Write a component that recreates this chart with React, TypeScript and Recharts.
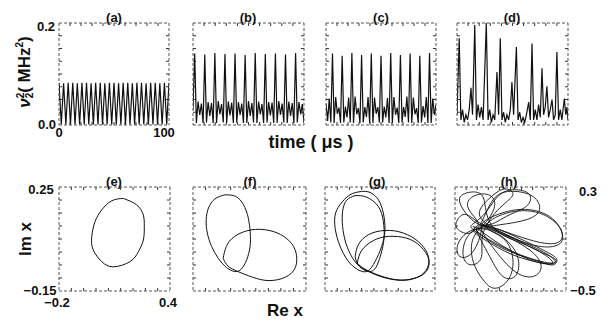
import React from "react";
import { LineChart, Line, XAxis, YAxis, ReferenceLine } from "recharts";

// ν2² (MHz²) samples, evenly spaced over 0–100 µs
const seriesA = [
  0.083, 0.001, 0.082, 0.001, 0.083, 0.001, 0.083, 0.001, 0.082, 0.001,
  0.083, 0.001, 0.083, 0.001, 0.082, 0.001, 0.083, 0.001, 0.083, 0.001,
  0.082, 0.001, 0.083, 0.001, 0.083, 0.001, 0.082, 0.001, 0.083, 0.001,
  0.083, 0.001, 0.082, 0.001, 0.083, 0.001, 0.083, 0.001, 0.082, 0.001,
  0.083, 0.001, 0.083, 0.001, 0.082, 0.001, 0.083, 0.001, 0.083,
];

const seriesB = [
  0.03,
  0.14, 0.004, 0.046, 0.02, 0.042, 0.004,
  0.138, 0.005, 0.045, 0.018, 0.043, 0.004,
  0.141, 0.004, 0.047, 0.021, 0.041, 0.005,
  0.139, 0.004, 0.046, 0.019, 0.044, 0.004,
  0.14, 0.005, 0.045, 0.02, 0.042, 0.004,
  0.137, 0.004, 0.047, 0.018, 0.043, 0.005,
  0.141, 0.004, 0.046, 0.021, 0.041, 0.004,
  0.139, 0.005, 0.045, 0.019, 0.044, 0.004,
  0.14, 0.004, 0.047, 0.02, 0.042, 0.005,
  0.138, 0.004, 0.046, 0.018, 0.043, 0.004,
  0.141, 0.005, 0.045, 0.021, 0.041, 0.004,
];

const seriesC = [
  0.042, 0.008, 0.052, 0.005,
  0.14, 0.004, 0.055, 0.022, 0.034, 0.004,
  0.136, 0.005, 0.036, 0.015, 0.054, 0.005,
  0.141, 0.004, 0.056, 0.021, 0.033, 0.004,
  0.137, 0.005, 0.035, 0.016, 0.055, 0.004,
  0.14, 0.004, 0.054, 0.022, 0.035, 0.005,
  0.136, 0.005, 0.036, 0.015, 0.053, 0.004,
  0.141, 0.004, 0.055, 0.02, 0.034, 0.004,
  0.137, 0.005, 0.035, 0.016, 0.056, 0.005,
  0.14, 0.004, 0.054, 0.021, 0.033, 0.004,
  0.136, 0.005, 0.037, 0.015, 0.055, 0.004,
  0.141, 0.004, 0.052, 0.02, 0.04,
];

// chaotic trace (d): irregular times
const timeD = [
  0, 2, 3.5, 5, 6.5, 8, 9.5, 11, 12.6, 14, 16, 17.5, 19, 20.5, 22, 23.5,
  26.4, 28, 29.5, 31, 32.5, 34, 36, 37.5, 39, 40.5, 42, 43.5, 45, 46.5, 48,
  49.5, 51, 53.5, 55, 56.5, 58, 59.5, 61, 62.5, 64.6, 66, 67.6, 69, 70.5, 72,
  73.5, 75, 76.6, 78, 79.5, 81, 82.5, 84, 85.6, 87, 88.5, 90, 91.5, 93, 94.5,
  96.7, 98, 99, 100,
];
const seriesD = [
  0.02, 0.17, 0.01, 0.03, 0.005, 0.02, 0.01, 0.03, 0.073, 0.02, 0.196, 0.01,
  0.04, 0.015, 0.035, 0.01, 0.2, 0.01, 0.03, 0.005, 0.02, 0.01, 0.104, 0.02,
  0.17, 0.01, 0.025, 0.005, 0.02, 0.01, 0.03, 0.084, 0.02, 0.153, 0.01, 0.025,
  0.005, 0.015, 0.005, 0.02, 0.045, 0.01, 0.16, 0.01, 0.03, 0.01, 0.04, 0.015,
  0.111, 0.02, 0.035, 0.076, 0.015, 0.03, 0.05, 0.01, 0.02, 0.143, 0.01, 0.03,
  0.01, 0.052, 0.02, 0.035, 0.01,
];

// phase portraits: [Re x, Im x]
const loopE = [
  [0.148, 0.206], [0.22, 0.181], [0.256, 0.142], [0.261, 0.097], [0.256, 0.046],
  [0.229, 0.001], [0.184, -0.037], [0.094, -0.057], [0.031, -0.037],
  [-0.015, 0.008], [-0.023, 0.059], [-0.005, 0.117], [0.031, 0.162],
  [0.085, 0.197], [0.148, 0.206],
];

const loopF1 = [
  [-0.031, 0.22], [-0.084, 0.204], [-0.118, 0.169], [-0.13, 0.124], [-0.124, 0.073],
  [-0.101, 0.021], [-0.066, -0.024], [-0.023, -0.059], [0.021, -0.075],
  [0.056, -0.066], [0.085, -0.03], [0.103, 0.021], [0.104, 0.073], [0.094, 0.13],
  [0.068, 0.182], [0.026, 0.214], [-0.031, 0.22],
];
const loopF2 = [
  [-0.04, -0.024], [-0.023, 0.021], [0.021, 0.06], [0.108, 0.085], [0.204, 0.083],
  [0.282, 0.06], [0.334, 0.021], [0.351, -0.024], [0.339, -0.066], [0.29, -0.097],
  [0.204, -0.11], [0.117, -0.097], [0.038, -0.075], [-0.014, -0.054], [-0.04, -0.024],
];

const loopG1 = [
  [0.0, 0.233], [-0.064, 0.22], [-0.118, 0.182], [-0.146, 0.137], [-0.14, 0.073],
  [-0.109, 0.008], [-0.064, -0.043], [-0.009, -0.072], [0.036, -0.072],
  [0.073, -0.037], [0.109, 0.021], [0.127, 0.085], [0.118, 0.15], [0.091, 0.201],
  [0.046, 0.229], [0.0, 0.233],
];
const loopG2 = [
  [-0.036, 0.217], [-0.082, 0.199], [-0.104, 0.156], [-0.104, 0.098], [-0.086, 0.034],
  [-0.049, -0.024], [0.0, -0.063], [0.046, -0.075], [0.078, -0.059], [0.104, -0.011],
  [0.122, 0.053], [0.118, 0.118], [0.091, 0.175], [0.027, 0.211], [-0.036, 0.217],
];
const loopG3 = [
  [-0.036, -0.018], [-0.018, 0.028], [0.036, 0.066], [0.127, 0.083], [0.227, 0.073],
  [0.309, 0.04], [0.358, -0.005], [0.364, -0.05], [0.327, -0.088], [0.246, -0.108],
  [0.136, -0.101], [0.036, -0.075], [-0.018, -0.05], [-0.036, -0.018],
];
const loopG4 = [
  [-0.024, -0.043], [0.0, 0.006], [0.064, 0.044], [0.146, 0.06], [0.246, 0.053],
  [0.322, 0.021], [0.366, -0.028], [0.355, -0.072], [0.304, -0.097], [0.209, -0.108],
  [0.1, -0.091], [0.018, -0.066], [-0.024, -0.043],
];

const traceH = [
  [-0.176, 0.009], [0.003, -0.029], [0.301, -0.145], [0.496, -0.235], [0.51, -0.274],
  [0.421, -0.281], [0.152, -0.209], [-0.116, -0.094], [-0.251, -0.016], [-0.221, 0.027],
  [-0.116, 0.112], [0.003, 0.241], [0.152, 0.279], [0.272, 0.241], [0.242, 0.151],
  [0.063, 0.074], [-0.131, 0.009], [-0.296, 0.087], [-0.385, 0.035], [-0.37, -0.029],
  [-0.266, -0.055], [-0.161, -0.003], [0.033, -0.055], [0.331, -0.171], [0.481, -0.248],
  [0.496, -0.286], [0.391, -0.286], [0.122, -0.222], [-0.131, -0.106], [-0.236, -0.029],
  [-0.191, 0.022], [-0.281, 0.138], [-0.236, 0.228], [-0.101, 0.241], [-0.042, 0.164],
  [-0.116, 0.035], [-0.236, -0.094], [-0.236, -0.274], [-0.146, -0.415], [-0.042, -0.479],
  [0.078, -0.415], [0.122, -0.261], [0.033, -0.094], [-0.116, -0.003], [0.063, 0.099],
  [0.361, 0.099], [0.555, -0.029], [0.51, -0.132], [0.272, -0.106], [0.003, -0.029],
  [-0.161, -0.003], [-0.087, -0.132], [0.122, -0.338], [0.301, -0.389], [0.376, -0.312],
  [0.272, -0.184], [0.003, -0.055], [-0.176, -0.016], [-0.296, -0.094], [-0.325, -0.235],
  [-0.251, -0.299], [-0.161, -0.235], [-0.146, -0.055], [0.003, 0.138], [0.122, 0.241],
  [0.048, 0.285], [-0.087, 0.215], [-0.176, 0.074], [0.063, -0.068], [0.361, -0.196],
  [0.51, -0.261], [0.481, -0.299], [0.361, -0.274], [0.093, -0.196], [-0.146, -0.081],
  [-0.236, -0.003], [-0.176, 0.009], [-0.057, 0.202], [0.122, 0.267], [0.301, 0.228],
  [0.361, 0.125], [0.242, 0.048], [0.003, 0.009], [-0.206, 0.022], [-0.355, 0.177],
  [-0.296, 0.254], [-0.161, 0.241], [-0.116, 0.099], [0.003, -0.055], [0.272, -0.158],
  [0.466, -0.261], [0.436, -0.292], [0.242, -0.248], [-0.057, -0.106], [-0.206, -0.029],
  [-0.087, -0.235], [0.033, -0.389], [0.152, -0.376], [0.152, -0.209], [-0.027, -0.055],
  [-0.236, -0.029], [-0.37, -0.132], [-0.355, -0.235], [-0.236, -0.196], [-0.161, -0.029],
  [-0.116, 0.048], [0.152, 0.125], [0.451, 0.074], [0.57, -0.081], [0.481, -0.158],
  [0.242, -0.132], [-0.057, -0.029], [-0.176, 0.009],
];

const timeTicks = [10, 20, 30, 40, 50, 60, 70, 80, 90];
const nuTicks = [0.025, 0.05, 0.075, 0.1, 0.125, 0.15, 0.175];
const reTicks = [-0.1333, -0.0667, 0, 0.0667, 0.1333, 0.2, 0.2667, 0.3333];
const imTicks = [-0.1, -0.05, 0, 0.05, 0.1, 0.15, 0.2];
const reTicksH = [-0.3, -0.2, -0.1, 0, 0.1, 0.2, 0.3, 0.4, 0.5];
const imTicksH = [-0.4, -0.3, -0.2, -0.1, 0, 0.1, 0.2];

const evenTime = (vals: number[]) =>
  vals.map((v, i) => ({ x: (i / (vals.length - 1)) * 100, y: v }));
const pairs = (pts: number[][]) => pts.map(([x, y]) => ({ x, y }));

type Pt = { x: number; y: number };
interface PanelProps {
  left: number;
  top: number;
  width: number;
  height: number;
  xDomain: [number, number];
  yDomain: [number, number];
  xTicks: number[];
  yTicks: number[];
  lines: Pt[][];
  curve: "linear" | "natural";
  strokeWidth?: number;
}

function Panel({ left, top, width, height, xDomain, yDomain, xTicks, yTicks, lines, curve, strokeWidth = 1 }: PanelProps) {
  const axisLine = { stroke: "#555", strokeDasharray: "3 2" };
  const common = { allowDataOverflow: true, mirror: true, tick: false, tickLine: false, axisLine, type: "number" as const };
  const [x0, x1] = xDomain;
  const [y0, y1] = yDomain;
  // 3px inward tick marks, expressed in data units
  const dx = ((x1 - x0) * 3) / width;
  const dy = ((y1 - y0) * 3) / height;
  const tickStyle = { stroke: "#333", strokeWidth: 1 };
  return (
    <div style={{ position: "absolute", left: left - 2, top: top - 2 }}>
      <LineChart width={width + 4} height={height + 4} margin={{ top: 2, right: 2, bottom: 2, left: 2 }}>
        <XAxis xAxisId="b" dataKey="x" domain={xDomain} {...common} />
        <XAxis xAxisId="t" orientation="top" dataKey="x" domain={xDomain} {...common} />
        <YAxis yAxisId="l" domain={yDomain} {...common} />
        <YAxis yAxisId="r" orientation="right" domain={yDomain} {...common} />
        {xTicks.map((t) => (
          <ReferenceLine key={`xb${t}`} xAxisId="b" yAxisId="l" segment={[{ x: t, y: y0 }, { x: t, y: y0 + dy }]} {...tickStyle} />
        ))}
        {xTicks.map((t) => (
          <ReferenceLine key={`xt${t}`} xAxisId="b" yAxisId="l" segment={[{ x: t, y: y1 }, { x: t, y: y1 - dy }]} {...tickStyle} />
        ))}
        {yTicks.map((t) => (
          <ReferenceLine key={`yl${t}`} xAxisId="b" yAxisId="l" segment={[{ x: x0, y: t }, { x: x0 + dx, y: t }]} {...tickStyle} />
        ))}
        {yTicks.map((t) => (
          <ReferenceLine key={`yr${t}`} xAxisId="b" yAxisId="l" segment={[{ x: x1, y: t }, { x: x1 - dx, y: t }]} {...tickStyle} />
        ))}
        {lines.map((data, i) => (
          <Line
            key={i}
            xAxisId="b"
            yAxisId="l"
            data={data}
            dataKey="y"
            type={curve}
            stroke="#111"
            strokeWidth={strokeWidth}
            dot={false}
            activeDot={false}
            isAnimationActive={false}
          />
        ))}
      </LineChart>
    </div>
  );
}

function Label({ x, y, size = 13, rotate = 0, children }: { x: number; y: number; size?: number; rotate?: number; children: React.ReactNode }) {
  return (
    <div
      style={{
        position: "absolute",
        left: x,
        top: y,
        transform: `translate(-50%, -50%) rotate(${rotate}deg)`,
        fontFamily: "'Liberation Sans', Arial, sans-serif",
        fontWeight: 700,
        fontSize: size,
        lineHeight: 1,
        whiteSpace: "nowrap",
        color: "#111",
      }}
    >
      {children}
    </div>
  );
}

export default function App() {
  const top = { top: 23, height: 102, xDomain: [0, 100] as [number, number], yDomain: [0, 0.2] as [number, number], xTicks: timeTicks, yTicks: nuTicks, curve: "linear" as const, strokeWidth: 1.2 };
  const bot = { top: 187, height: 104, xDomain: [-0.2, 0.4] as [number, number], yDomain: [-0.15, 0.25] as [number, number], xTicks: reTicks, yTicks: imTicks, curve: "natural" as const };
  return (
    <div style={{ position: "absolute", left: 0, top: 0, width: 608, height: 320, background: "#fff", overflow: "hidden" }}>
      <Panel {...top} left={59} width={110} lines={[evenTime(seriesA)]} />
      <Panel {...top} left={193} width={111} lines={[evenTime(seriesB)]} />
      <Panel {...top} left={326} width={110} lines={[evenTime(seriesC)]} />
      <Panel {...top} left={457} width={111} lines={[timeD.map((t, i) => ({ x: t, y: seriesD[i] }))]} />

      <Panel {...bot} left={59} width={111} lines={[pairs(loopE)]} />
      <Panel {...bot} left={193} width={113} lines={[pairs(loopF1), pairs(loopF2)]} />
      <Panel {...bot} left={325} width={110} lines={[pairs(loopG1), pairs(loopG2), pairs(loopG3), pairs(loopG4)]} />
      <Panel {...bot} left={455} width={111} xDomain={[-0.4, 0.6]} yDomain={[-0.5, 0.3]} xTicks={reTicksH} yTicks={imTicksH} strokeWidth={0.9} lines={[pairs(traceH)]} />

      <Label x={114} y={17}>(a)</Label>
      <Label x={248} y={17}>(b)</Label>
      <Label x={381} y={17}>(c)</Label>
      <Label x={512} y={17}>(d)</Label>
      <Label x={46} y={26}>0.2</Label>
      <Label x={47} y={124}>0.0</Label>
      <Label x={59} y={132}>0</Label>
      <Label x={164} y={132}>100</Label>
      <Label x={311} y={142} size={18}>time ( μs )</Label>
      <Label x={25} y={72} size={17} rotate={-90}>
        <span style={{ fontStyle: "italic" }}>ν</span>
        <span style={{ display: "inline-flex", flexDirection: "column", fontSize: 10, lineHeight: 0.9, verticalAlign: "middle" }}>
          <span>2</span>
          <span>2</span>
        </span>
        ( MHz<sup style={{ fontSize: 10 }}>2</sup>)
      </Label>

      <Label x={114} y={181}>(e)</Label>
      <Label x={250} y={181}>(f)</Label>
      <Label x={377} y={181}>(g)</Label>
      <Label x={509} y={181}>(h)</Label>
      <Label x={41} y={189}>0.25</Label>
      <Label x={40} y={290}>−0.15</Label>
      <Label x={57} y={302}>−0.2</Label>
      <Label x={168} y={302}>0.4</Label>
      <Label x={25} y={239} size={17} rotate={-90}>Im x</Label>
      <Label x={285} y={310} size={17}>Re x</Label>
      <Label x={588} y={191}>0.3</Label>
      <Label x={583} y={290}>−0.5</Label>
    </div>
  );
}
